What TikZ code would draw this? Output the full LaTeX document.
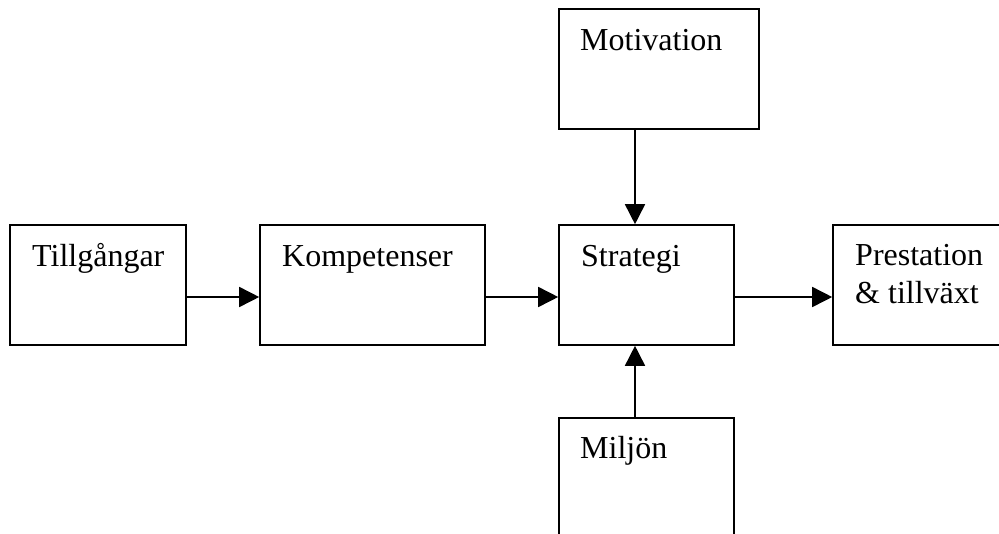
\documentclass[tikz,border=0pt]{standalone}
\usepackage{fontspec}
\setmainfont{Liberation Serif}
\usetikzlibrary{arrows.meta}
\begin{document}
\begin{tikzpicture}[x=1pt,y=-1pt,
  box/.style={draw, line width=1.6pt, rectangle, inner sep=0pt},
  lbl/.style={anchor=base west, inner sep=0pt, font=\fontsize{32pt}{38pt}\selectfont},
  arr/.style={line width=1.6pt, -{Triangle[length=20pt,width=20pt]}}]
\useasboundingbox (0,0) rectangle (999,533);
\node[box, minimum width=176pt, minimum height=120pt] (til) at (98,285) {};
\node[box, minimum width=225pt, minimum height=120pt] (komp) at (372.5,285) {};
\node[box, minimum width=175pt, minimum height=120pt] (strat) at (646.5,285) {};
\node[box, minimum width=180pt, minimum height=120pt] (prest) at (923,285) {};
\node[box, minimum width=200pt, minimum height=120pt] (mot) at (659,69) {};
\node[box, minimum width=175pt, minimum height=130pt] (milj) at (646.5,483) {};
\node[lbl] (tiltext) at (32,266) {Tillgångar};
\node[lbl] (komptext) at (282,266) {Kompetenser};
\node[lbl] (strattext) at (581,266) {Strategi};
\node[lbl] (presttext1) at (855,265) {Prestation};
\node[lbl] (presttext2) at (855,303) {\&~tillväxt};
\node[lbl] (mottext) at (580,50) {Motivation};
\node[lbl] (miljtext) at (580,458) {Miljön};
\draw[arr] ([yshift=-12pt]til.east) -- ([yshift=-12pt]komp.west);
\draw[arr] ([yshift=-12pt]komp.east) -- ([yshift=-12pt]strat.west);
\draw[arr] ([yshift=-12pt]strat.east) -- ([yshift=-12pt]prest.west);
\draw[arr] ([xshift=-24pt]mot.south) -- ([xshift=-11.5pt]strat.north);
\draw[arr] ([xshift=-11.5pt]milj.north) -- ([xshift=-11.5pt]strat.south);
\end{tikzpicture}
\end{document}
